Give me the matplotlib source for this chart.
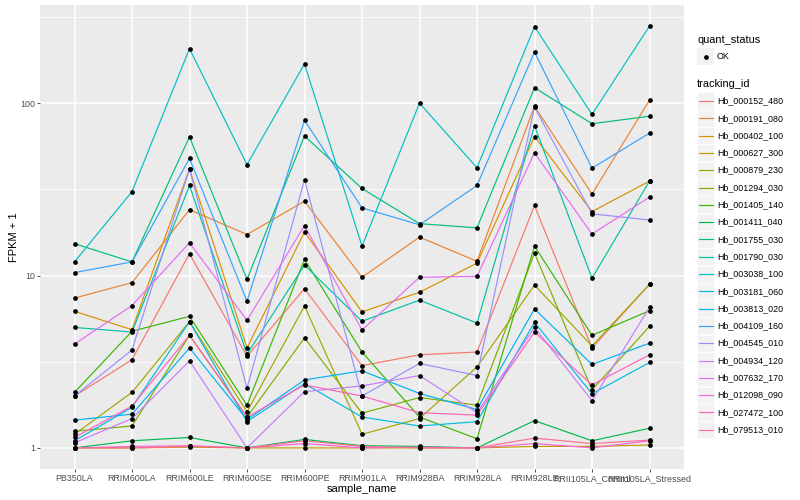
import numpy as np
import matplotlib.pyplot as plt
from matplotlib.lines import Line2D
from matplotlib.patches import Rectangle

plt.rcParams['font.family'] = ['Liberation Sans', 'DejaVu Sans']

# x categories
samples = ['PB350LA', 'RRIM600LA', 'RRIM600LE', 'RRIM600SE', 'RRIM600PE', 'RRIM901LA',
           'RRIM928BA', 'RRIM928LA', 'RRIM928LE', 'RRII105LA_Control', 'RRII105LA_Stressed']

tracking_ids = ['Hb_000152_480', 'Hb_000191_080', 'Hb_000402_100', 'Hb_000627_300', 'Hb_000879_230',
                'Hb_001294_030', 'Hb_001405_140', 'Hb_001411_040', 'Hb_001755_030', 'Hb_001790_030',
                'Hb_003038_100', 'Hb_003181_060', 'Hb_003813_020', 'Hb_004109_160', 'Hb_004545_010',
                'Hb_004934_120', 'Hb_007632_170', 'Hb_012098_090', 'Hb_027472_100', 'Hb_079513_010']

# ggplot default hue palette for 20 levels
colors = ['#F8766D', '#EA8331', '#D89000', '#C09B00', '#A3A500', '#7CAE00', '#39B600', '#00BB4E',
          '#00BF7D', '#00C1A3', '#00BFC4', '#00BAE0', '#00B0F6', '#35A2FF', '#9590FF', '#C77CFF',
          '#E76BF3', '#FA62DB', '#FF62BC', '#FF6C91']

# FPKM + 1 values (one list per tracking_id, in sample order)
hb_000152_480 = [2.0, 3.25, 13.4, 3.4, 8.4, 3.0, 3.47, 3.6, 25.5, 3.8, 8.9]
hb_000191_080 = [7.4, 9.1, 24.1, 17.3, 27.0, 9.77, 16.7, 12.1, 96.0, 29.7, 104.0]
hb_000402_100 = [6.2, 4.85, 41.6, 3.8, 17.9, 6.15, 8.0, 11.8, 64.0, 23.5, 35.3]
hb_000627_300 = [1.0, 1.0, 1.01, 1.0, 1.0, 1.0, 1.0, 1.0, 1.02, 1.02, 1.04]
hb_000879_230 = [1.2, 2.1, 5.4, 1.62, 6.66, 1.2, 1.48, 2.95, 8.8, 3.9, 8.9]
hb_001294_030 = [1.25, 1.34, 4.5, 1.51, 4.35, 1.59, 1.96, 1.77, 13.5, 2.17, 5.07]
hb_001405_140 = [2.1, 4.75, 5.8, 1.77, 12.4, 3.6, 1.51, 1.13, 14.8, 4.5, 6.25]
hb_001411_040 = [1.0, 1.1, 1.15, 1.0, 1.12, 1.03, 1.02, 1.0, 1.44, 1.1, 1.3]
hb_001755_030 = [15.3, 12.0, 63.8, 9.5, 64.5, 32.0, 20.0, 18.9, 123.0, 76.0, 84.0]
hb_001790_030 = [5.0, 4.7, 33.3, 3.5, 11.5, 5.43, 7.2, 5.3, 74.0, 9.65, 35.3]
hb_003038_100 = [12.0, 30.7, 207.0, 44.0, 169.0, 14.8, 100.0, 42.2, 278.0, 86.0, 280.0]
hb_003181_060 = [1.1, 1.72, 5.4, 1.42, 2.36, 1.51, 1.34, 1.42, 5.35, 2.06, 3.13]
hb_003813_020 = [1.45, 1.57, 3.8, 1.46, 2.48, 2.8, 2.07, 1.67, 6.4, 3.05, 4.05]
hb_004109_160 = [10.4, 12.0, 47.8, 7.1, 79.5, 24.7, 19.7, 33.3, 198.0, 42.0, 67.0]
hb_004545_010 = [2.0, 3.7, 41.6, 2.22, 36.0, 2.0, 3.09, 2.63, 95.0, 22.8, 21.0]
hb_004934_120 = [1.07, 1.48, 3.2, 1.0, 2.12, 2.29, 2.63, 1.6, 5.0, 1.88, 6.53]
hb_007632_170 = [4.0, 6.7, 15.5, 5.5, 19.5, 4.83, 9.77, 9.9, 51.5, 17.4, 28.5]
hb_012098_090 = [1.0, 1.02, 1.03, 1.0, 1.06, 1.0, 1.01, 1.0, 1.06, 1.0, 1.1]
hb_027472_100 = [1.15, 1.75, 4.5, 1.51, 2.32, 2.0, 1.6, 1.55, 4.7, 2.32, 3.47]
hb_079513_010 = [1.0, 1.0, 1.02, 1.0, 1.1, 1.02, 1.0, 1.0, 1.14, 1.06, 1.11]

fpkm = [hb_000152_480, hb_000191_080, hb_000402_100, hb_000627_300, hb_000879_230,
        hb_001294_030, hb_001405_140, hb_001411_040, hb_001755_030, hb_001790_030,
        hb_003038_100, hb_003181_060, hb_003813_020, hb_004109_160, hb_004545_010,
        hb_004934_120, hb_007632_170, hb_012098_090, hb_027472_100, hb_079513_010]

W, H = 800, 500
fig = plt.figure(figsize=(8, 5), dpi=100)
ax = fig.add_axes([40 / W, 1 - 469 / H, (684 - 40) / W, (469 - 5) / H])
ax.set_facecolor('#EBEBEB')

x = np.arange(len(samples))
for vals, col in zip(fpkm, colors):
    ax.plot(x, vals, color=col, lw=0.85, zorder=3)
for vals in fpkm:
    ax.plot(x, vals, ls='none', marker='o', ms=2.4, color='black', zorder=4)

# log scale with ggplot style expansion
ax.set_yscale('log')
allv = np.concatenate([np.array(v) for v in fpkm])
lo, hi = np.log10(allv.min()), np.log10(allv.max())
pad = 0.05 * (hi - lo)
ax.set_ylim(10 ** (lo - pad), 10 ** (hi + pad))
ax.set_xlim(-0.6, len(samples) - 0.4)

ax.set_yticks([1, 10, 100])
ax.set_yticklabels(['1', '10', '100'])
ax.yaxis.set_minor_locator(plt.FixedLocator([10 ** 0.5, 10 ** 1.5, 10 ** 2.5]))
ax.yaxis.set_minor_formatter(plt.NullFormatter())
ax.set_xticks(x)
ax.set_xticklabels(samples)

ax.grid(which='major', color='white', lw=1.1, zorder=1)
ax.grid(which='minor', axis='y', color='white', lw=0.55, zorder=1)
ax.set_axisbelow(True)
for s in ax.spines.values():
    s.set_visible(False)
ax.tick_params(which='major', length=2, width=0.6, color='#333333', labelsize=6.4,
               labelcolor='#4D4D4D', pad=1.5)
ax.tick_params(which='minor', length=0)

ax.set_xlabel('sample_name', fontsize=8, labelpad=1)
ax.set_ylabel('FPKM + 1', fontsize=8, labelpad=1)

# legends drawn by hand, ggplot style
def px(xp, yp):
    return xp / W, 1 - yp / H

key = 17
lx = 697
fig.text(*px(lx, 40), 'quant_status', fontsize=7.9, va='center', ha='left')
fig.add_artist(Rectangle(px(lx, 48 + key), key / W, key / H, transform=fig.transFigure,
                         facecolor='#F2F2F2', edgecolor='none'))
fig.add_artist(Line2D([px(lx + key / 2, 0)[0]], [px(0, 56.5)[1]], transform=fig.transFigure,
                      marker='o', ms=2.4, color='black', ls='none'))
fig.text(*px(717, 56.5), 'OK', fontsize=6.4, va='center', ha='left')

fig.text(*px(lx, 84), 'tracking_id', fontsize=7.9, va='center', ha='left')
for i, (name, col) in enumerate(zip(tracking_ids, colors)):
    yc = 101 + 17.3 * i
    fig.add_artist(Rectangle(px(lx, yc + key / 2), key / W, key / H, transform=fig.transFigure,
                             facecolor='#F2F2F2', edgecolor='white', lw=0.5))
    fig.add_artist(Line2D([px(lx + 1.5, 0)[0], px(lx + key - 1.5, 0)[0]], [px(0, yc)[1]] * 2,
                          transform=fig.transFigure, color=col, lw=0.85))
    fig.text(*px(717, yc), name, fontsize=6.4, va='center', ha='left')

fig.savefig('out.png', dpi=100)
